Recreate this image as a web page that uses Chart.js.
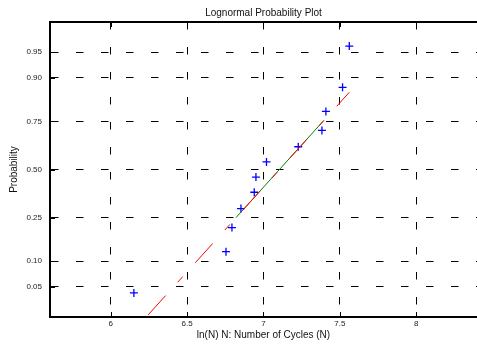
<!DOCTYPE html>
<html><head><meta charset="utf-8">
<script src="https://cdn.jsdelivr.net/npm/chart.js@4"></script>
<style>html,body{margin:0;padding:0;background:#fff;}canvas{display:block;}</style>
</head><body>
<canvas id="c" width="477" height="347"></canvas>
<script>
// ---- data ----
const lnCycles = [6.152, 6.755, 6.794, 6.853, 6.940, 6.951, 7.020, 7.228, 7.383, 7.409, 7.518, 7.562];
const plotProb = [0.042, 0.125, 0.208, 0.292, 0.375, 0.458, 0.542, 0.625, 0.708, 0.792, 0.875, 0.958];
const quartileX = [6.82, 7.39];
const quartileProb = [0.25, 0.75];
const refLineX = [6.152, 7.562];
const refLineProb = [0.012, 0.860];
const xTickValues = [6, 6.5, 7, 7.5, 8];
const xTickLabels = ['6', '6.5', '7', '7.5', '8'];
const probTickValues = [0.05, 0.10, 0.25, 0.50, 0.75, 0.90, 0.95];
const probTickLabels = ['0.05', '0.10', '0.25', '0.50', '0.75', '0.90', '0.95'];

// inverse standard normal CDF (probability axis transform)
function probit(p) {
  const a = [-3.969683028665376e+01, 2.209460984245205e+02, -2.759285104469687e+02, 1.383577518672690e+02, -3.066479806614716e+01, 2.506628277459239e+00];
  const b = [-5.447609879822406e+01, 1.615858368580409e+02, -1.556989798598866e+02, 6.680131188771972e+01, -1.328068155288572e+01];
  const c = [-7.784894002430293e-03, -3.223964580411365e-01, -2.400758277161838e+00, -2.549732539343734e+00, 4.374664141464968e+00, 2.938163982698783e+00];
  const d = [7.784695709041462e-03, 3.224671290700398e-01, 2.445134137142996e+00, 3.754408661907416e+00];
  const plow = 0.02425;
  let q, r;
  if (p < plow) {
    q = Math.sqrt(-2 * Math.log(p));
    return (((((c[0]*q+c[1])*q+c[2])*q+c[3])*q+c[4])*q+c[5]) / ((((d[0]*q+d[1])*q+d[2])*q+d[3])*q+1);
  }
  if (p > 1 - plow) {
    q = Math.sqrt(-2 * Math.log(1 - p));
    return -(((((c[0]*q+c[1])*q+c[2])*q+c[3])*q+c[4])*q+c[5]) / ((((d[0]*q+d[1])*q+d[2])*q+d[3])*q+1);
  }
  q = p - 0.5; r = q * q;
  return (((((a[0]*r+a[1])*r+a[2])*r+a[3])*r+a[4])*r+a[5])*q / (((((b[0]*r+b[1])*r+b[2])*r+b[3])*r+b[4])*r+1);
}

const FONT = "'Liberation Sans', Arial, sans-serif";
const X_MIN = 5.603, X_MAX = 8.398, Z_LIM = 2.065;

const insideTicks = {
  id: 'insideTicks',
  beforeDatasetsDraw(chart) {
    const {ctx, chartArea: ca, scales: {x, y}} = chart;
    ctx.save();
    ctx.strokeStyle = '#000';
    ctx.lineWidth = 1;
    ctx.beginPath();
    x.ticks.forEach(t => {
      const px = Math.round(x.getPixelForValue(t.value)) + 0.5;
      ctx.moveTo(px, ca.bottom); ctx.lineTo(px, ca.bottom - 5);
      ctx.moveTo(px, ca.top); ctx.lineTo(px, ca.top + 5);
    });
    y.ticks.forEach(t => {
      const py = Math.round(y.getPixelForValue(t.value)) + 0.5;
      ctx.moveTo(ca.left, py); ctx.lineTo(ca.left + 5, py);
    });
    ctx.stroke();
    ctx.restore();
  }
};

new Chart(document.getElementById('c'), {
  type: 'scatter',
  data: {
    datasets: [
      {
        label: 'reference',
        data: refLineX.map((x, i) => ({x, y: probit(refLineProb[i])})),
        showLine: true,
        borderColor: '#ff0000',
        borderWidth: 1,
        borderDash: [26, 18, 7.5, 18.8],
        borderDashOffset: 48.9,
        pointRadius: 0,
        order: 0
      },
      {
        label: 'quartiles',
        data: quartileX.map((x, i) => ({x, y: probit(quartileProb[i])})),
        showLine: true,
        borderColor: '#008000',
        borderWidth: 1,
        pointRadius: 0,
        order: 1
      },
      {
        label: 'data',
        data: lnCycles.map((x, i) => ({x, y: probit(plotProb[i])})),
        showLine: false,
        pointStyle: 'cross',
        pointRadius: 4,
        borderColor: '#0000ff',
        backgroundColor: '#0000ff',
        borderWidth: 1.3,
        order: 2
      }
    ]
  },
  options: {
    responsive: false,
    animation: false,
    events: [],
    layout: {padding: 0, autoPadding: false},
    plugins: {legend: {display: false}, tooltip: {enabled: false}, title: {display: false}},
    scales: {
      x: {
        type: 'linear', position: 'bottom', min: X_MIN, max: X_MAX,
        afterBuildTicks: s => { s.ticks = xTickValues.map(v => ({value: v})); },
        afterFit: s => { s.height = 30; },
        grid: {color: '#000', lineWidth: 1, drawTicks: false},
        border: {display: true, color: '#000', width: 2, dash: [7.5, 17.5]},
        ticks: {color: '#222', font: {family: FONT, size: 8}, padding: 2, maxRotation: 0,
                callback: (v, i) => xTickLabels[i]},
        title: {display: true, text: 'ln(N) N: Number of Cycles (N)', color: '#111',
                font: {family: FONT, size: 10}, padding: {top: 0, bottom: 6}}
      },
      xTop: {
        type: 'linear', position: 'top', min: X_MIN, max: X_MAX,
        afterFit: s => { s.height = 22; },
        grid: {display: false, drawTicks: false},
        border: {display: true, color: '#000', width: 2},
        ticks: {display: false},
        title: {display: true, text: 'Lognormal Probability Plot', color: '#111',
                font: {family: FONT, size: 10}, padding: {top: 7, bottom: 0}}
      },
      y: {
        type: 'linear', position: 'left', min: -Z_LIM, max: Z_LIM,
        afterBuildTicks: s => { s.ticks = probTickValues.map(p => ({value: probit(p)})); },
        afterFit: s => { s.width = 50; },
        grid: {color: '#000', lineWidth: 1, drawTicks: false},
        border: {display: true, color: '#000', width: 2, dash: [7.5, 17.5]},
        ticks: {color: '#222', font: {family: FONT, size: 8}, padding: 8,
                callback: (v, i) => probTickLabels[i]},
        title: {display: true, text: 'Probability', color: '#111',
                font: {family: FONT, size: 10}, padding: {top: 8, bottom: 0}}
      }
    }
  },
  plugins: [insideTicks]
});
</script>
</body></html>
